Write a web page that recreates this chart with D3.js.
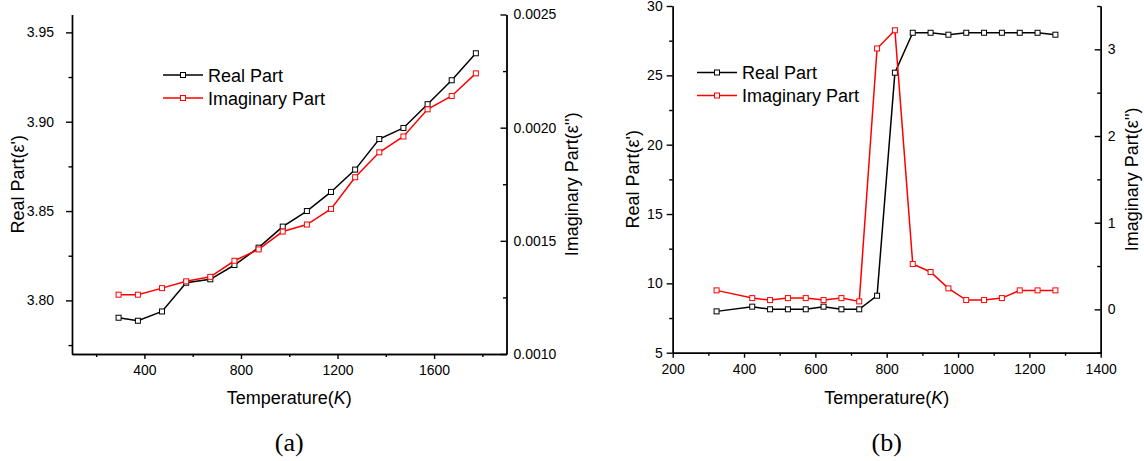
<!DOCTYPE html>
<meta charset="utf-8">
<html>
<head>
	<script src="https://cdn.jsdelivr.net/npm/d3@7"></script>
	<style>
		body { margin: 0; background: #fff; }
		svg text { font-family: "Liberation Sans", Arial, sans-serif; fill: #000; }
		.axis path, .axis line { stroke: #000; stroke-width: 1.4px; }
		.axis text { font-size: 14px; }
	</style>
</head>
<body>
	<svg id="chart" width="1144" height="461"></svg>
	<script>
		// panel (a): 293 K up to 1773 K
		var tempA = [293, 373, 473, 573, 673, 773, 873, 973, 1073, 1173, 1273, 1373, 1473, 1573, 1673, 1773];
		var realA = [3.7903, 3.7886, 3.7938, 3.8099, 3.8118, 3.8198, 3.8295, 3.8413, 3.8500, 3.8607, 3.8732, 3.8903, 3.8965, 3.9098, 3.9232, 3.9383];
		var imagA = [0.001262, 0.001262, 0.001291, 0.001321, 0.001341, 0.001412, 0.001462, 0.001541, 0.001572, 0.001641, 0.001781, 0.001891, 0.001961, 0.002081, 0.002140, 0.002240];

		// panel (b)
		var tempB = [323, 423, 473, 523, 573, 623, 673, 723, 773, 823, 873, 923, 973, 1023, 1073, 1123, 1173, 1223, 1273];
		var realB = [7.98, 8.32, 8.13, 8.13, 8.13, 8.32, 8.13, 8.13, 9.11, 25.19, 28.07, 28.07, 27.93, 28.07, 28.07, 28.07, 28.07, 28.07, 27.93];
		var imagB = [0.219, 0.13, 0.107, 0.13, 0.13, 0.107, 0.13, 0.092, 3.01, 3.22, 0.523, 0.431, 0.242, 0.107, 0.107, 0.13, 0.219, 0.219, 0.219];

		var seriesNames = ["Real Part", "Imaginary Part"];
		var seriesColors = ["#000", "#ff0000"];

		var ticksA = {x: [400, 800, 1200, 1600], xMinor: [200, 600, 1000, 1400, 1800],
			yl: [3.80, 3.85, 3.90, 3.95], ylMinor: [3.775, 3.825, 3.875, 3.925],
			yr: [0.0010, 0.0015, 0.0020, 0.0025], yrMinor: [0.00125, 0.00175, 0.00225]};
		var ticksB = {x: [200, 400, 600, 800, 1000, 1200, 1400], xMinor: [300, 500, 700, 900, 1100, 1300],
			yl: [5, 10, 15, 20, 25, 30], ylMinor: [7.5, 12.5, 17.5, 22.5, 27.5],
			yr: [0, 1, 2, 3], yrMinor: [-0.5, 0.5, 1.5, 2.5, 3.5]};

		var svg = d3.select("#chart");

		function drawPanel(p) {
			var x = d3.scaleLinear().domain(p.xDomain).range([p.left, p.right]);
			var yL = d3.scaleLinear().domain(p.ylDomain).range([p.bottom, p.top]);
			var yR = d3.scaleLinear().domain(p.yrDomain).range([p.bottom, p.top]);
			var g = svg.append("g");

			// bottom axis
			g.append("g").attr("class", "axis")
				.attr("transform", "translate(0," + p.bottom + ")")
				.call(d3.axisBottom(x).tickValues(p.ticks.x).tickSize(5).tickSizeOuter(0).tickPadding(6).tickFormat(d3.format("d")));
			g.append("g").attr("class", "axis")
				.attr("transform", "translate(0," + p.bottom + ")")
				.call(d3.axisBottom(x).tickValues(p.ticks.xMinor).tickSize(3).tickSizeOuter(0).tickFormat(""));

			// left axis
			g.append("g").attr("class", "axis")
				.attr("transform", "translate(" + p.left + ",0)")
				.call(d3.axisLeft(yL).tickValues(p.ticks.yl).tickSize(6).tickSizeOuter(0).tickPadding(p.lPad).tickFormat(p.ylFormat));
			g.append("g").attr("class", "axis")
				.attr("transform", "translate(" + p.left + ",0)")
				.call(d3.axisLeft(yL).tickValues(p.ticks.ylMinor).tickSize(3.5).tickSizeOuter(0).tickFormat(""));

			// right axis, ticks point inward
			g.append("g").attr("class", "axis")
				.attr("transform", "translate(" + p.right + ",0)")
				.call(d3.axisRight(yR).tickValues(p.ticks.yr).tickSize(-6).tickSizeOuter(0).tickPadding(7).tickFormat(p.yrFormat));
			g.append("g").attr("class", "axis")
				.attr("transform", "translate(" + p.right + ",0)")
				.call(d3.axisRight(yR).tickValues(p.ticks.yrMinor).tickSize(-3.5).tickSizeOuter(0).tickFormat(""));

			// series
			var sets = [
				{vals: p.real, y: yL, color: seriesColors[0]},
				{vals: p.imag, y: yR, color: seriesColors[1]}
			];
			sets.forEach(function(s) {
				var pts = p.temps.map(function(t, i) { return [x(t), s.y(s.vals[i])]; });
				g.append("path")
					.attr("d", d3.line()(pts))
					.attr("fill", "none")
					.attr("stroke", s.color)
					.attr("stroke-width", 1.5);
				g.selectAll(null).data(pts).enter().append("rect")
					.attr("x", function(d) { return d[0] - 2.5; })
					.attr("y", function(d) { return d[1] - 2.5; })
					.attr("width", 5).attr("height", 5)
					.attr("fill", "#fff")
					.attr("stroke", s.color)
					.attr("stroke-width", 1);
			});

			// legend
			seriesNames.forEach(function(name, i) {
				var ly = p.legY + i * 23;
				g.append("line")
					.attr("x1", p.legX).attr("x2", p.legX + 40)
					.attr("y1", ly).attr("y2", ly)
					.attr("stroke", seriesColors[i]).attr("stroke-width", 1.5);
				g.append("rect")
					.attr("x", p.legX + 17.5).attr("y", ly - 2.5)
					.attr("width", 5).attr("height", 5)
					.attr("fill", "#fff").attr("stroke", seriesColors[i]);
				g.append("text")
					.attr("x", p.legX + 45).attr("y", ly + 6.5)
					.style("font-size", "18px")
					.text(name);
			});

			// axis titles
			var xt = g.append("text")
				.attr("x", (p.left + p.right) / 2).attr("y", 404)
				.attr("text-anchor", "middle")
				.style("font-size", "18px");
			xt.append("tspan").text("Temperature(");
			xt.append("tspan").style("font-style", "italic").text("K");
			xt.append("tspan").text(")");

			var cy = (p.top + p.bottom) / 2;
			g.append("text")
				.attr("transform", "translate(" + p.lTitleX + "," + cy + ") rotate(-90)")
				.attr("text-anchor", "middle")
				.style("font-size", "18px")
				.text("Real Part(\u03b5')");
			g.append("text")
				.attr("transform", "translate(" + p.rTitleX + "," + cy + ") rotate(-90)")
				.attr("text-anchor", "middle")
				.style("font-size", "18px")
				.text("Imaginary Part(\u03b5'')");

			// panel tag
			g.append("text")
				.attr("x", (p.left + p.right) / 2).attr("y", 451)
				.attr("text-anchor", "middle")
				.style("font-family", "'Liberation Serif', 'Times New Roman', serif")
				.style("font-size", "26px")
				.text(p.tag);
		}

		drawPanel({
			tag: "(a)", temps: tempA, real: realA, imag: imagA, ticks: ticksA,
			xDomain: [100, 1900], ylDomain: [3.77, 3.96], yrDomain: [0.0010, 0.0025],
			left: 72, right: 506.5, top: 14.5, bottom: 354,
			ylFormat: d3.format(".2f"), yrFormat: d3.format(".4f"), lPad: 12,
			legX: 163, legY: 75, lTitleX: 24, rTitleX: 578
		});

		drawPanel({
			tag: "(b)", temps: tempB, real: realB, imag: imagB, ticks: ticksB,
			xDomain: [200, 1400], ylDomain: [5, 30], yrDomain: [-0.5, 3.5],
			left: 672.7, right: 1100.7, top: 6, bottom: 352.7,
			ylFormat: d3.format("d"), yrFormat: d3.format("d"), lPad: 4,
			legX: 697, legY: 72.5, lTitleX: 639, rTitleX: 1138
		});
	</script>
</body>
</html>
